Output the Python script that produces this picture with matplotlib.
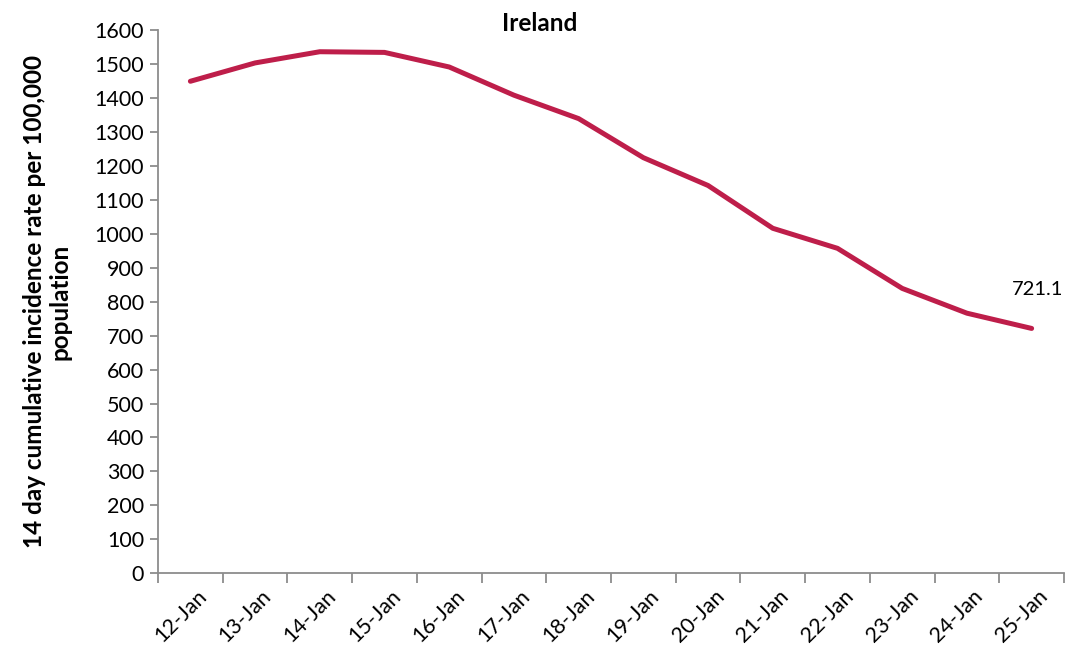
import matplotlib.pyplot as plt
from matplotlib.ticker import MultipleLocator
import matplotlib.transforms as mtransforms

# 14 day cumulative incidence per 100,000 - Ireland
dates = ["12-Jan", "13-Jan", "14-Jan", "15-Jan", "16-Jan", "17-Jan", "18-Jan",
         "19-Jan", "20-Jan", "21-Jan", "22-Jan", "23-Jan", "24-Jan", "25-Jan"]
rates = [1449, 1503, 1536, 1534, 1491, 1408, 1339,
         1224, 1142, 1016, 957, 839, 766, 721.1]

plt.rcParams["font.family"] = ["Lato", "DejaVu Sans"]

fig = plt.figure(figsize=(10.78, 6.62), dpi=100)
ax = fig.add_axes([0.1466, 0.134, 0.987 - 0.1466, 0.9547 - 0.134])

x = list(range(len(dates)))
ax.plot(x, rates, color="#BE1E4A", linewidth=3.6, solid_capstyle="round")

# last value label
ax.annotate(f"{rates[-1]:.1f}", (x[-1], rates[-1]), textcoords="offset pixels",
            xytext=(6, 39), ha="center", va="center", fontsize=14.5)

ax.set_xlim(-0.5, len(dates) - 0.5)
ax.set_ylim(0, 1600)
ax.yaxis.set_major_locator(MultipleLocator(100))

# category labels at centres, tick marks at boundaries
ax.set_xticks(x)
ax.set_xticklabels(dates, rotation=45, ha="right", va="top", fontsize=15.5)
ax.set_xticks([i - 0.5 for i in range(len(dates) + 1)], minor=True)
ax.tick_params(axis="x", which="major", length=0, pad=9)
ax.tick_params(axis="x", which="minor", length=7, color="#8c8c8c", width=1.3)
ax.tick_params(axis="y", length=6, color="#8c8c8c", width=1.3, labelsize=15.5, pad=4)
offset = mtransforms.ScaledTranslation(20 / 100, 0, fig.dpi_scale_trans)
for lbl in ax.get_xticklabels():
    lbl.set_transform(lbl.get_transform() + offset)

for side in ["top", "right"]:
    ax.spines[side].set_visible(False)
for side in ["left", "bottom"]:
    ax.spines[side].set_color("#8c8c8c")
    ax.spines[side].set_linewidth(1.3)

ax.set_ylabel("14 day cumulative incidence rate per 100,000\npopulation",
              fontsize=17.5, fontweight="bold", linespacing=1.15, va="center")
ax.yaxis.set_label_coords(-0.122, 0.5)
fig.text(0.501, 0.965, "Ireland", ha="center", va="center",
         fontsize=17.5, fontweight="bold")

fig.savefig("out.png", dpi=100)
